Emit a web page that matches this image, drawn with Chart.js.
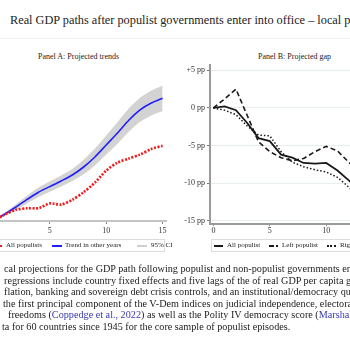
<!DOCTYPE html>
<html>
<head>
<meta charset="utf-8">
<script src="https://cdn.jsdelivr.net/npm/chart.js@4.4.1/dist/chart.umd.min.js"></script>
<style>
  html, body { margin: 0; padding: 0; width: 350px; height: 350px; overflow: hidden; background: #fff; }
  body { position: relative; font-family: 'Liberation Serif', serif; color: #222; }
  .t { position: absolute; white-space: nowrap; }
  canvas { position: absolute; }
  .box { position: absolute; border: 1px solid #dcdcdc; box-sizing: border-box; }
  .mk { position: absolute; }
  .cap { position: absolute; left: 0; top: 263px; font-size: 10.2px; line-height: 11.5px; white-space: nowrap; }
  .cap div { position: relative; }
  .lnk { color: #3a3ab0; }
</style>
</head>
<body>

<div class="t" style="left:10px; top:14px; font-size:12.3px; line-height:12px;">Real GDP paths after populist governments enter into office – local p</div>
<div style="position:absolute; left:0; top:38px; width:350px; height:1px; background:#f1f1f1;"></div>

<div class="t" style="left:38px; top:53px; font-size:8px; line-height:8px;">Panel A: Projected trends</div>
<div class="t" style="left:258px; top:53px; font-size:8px; line-height:8px;">Panel B: Projected gap</div>

<canvas id="chartA" width="196" height="178" style="left:-20px; top:59px; width:196px; height:178px;"></canvas>
<canvas id="chartB" width="226" height="185" style="left:170px; top:55px; width:226px; height:185px;"></canvas>

<!-- leyenda panel A -->
<div class="box" style="left:-5px; top:239px; width:170px; height:13px;"></div>
<div class="mk" style="left:-3px; top:244.5px; width:6px; height:2.5px; background:repeating-linear-gradient(90deg,#f21d1d 0 2px,transparent 2px 3.5px);"></div>
<div class="t" style="left:6px; top:241.5px; font-size:7px; line-height:7px;">All populists</div>
<div class="mk" style="left:52px; top:244.5px; width:10px; height:2px; background:#1f1fff;"></div>
<div class="t" style="left:65px; top:241.5px; font-size:7px; line-height:7px;">Trend in other years</div>
<div class="mk" style="left:137px; top:244.5px; width:10px; height:2px; background:#cfcfcf;"></div>
<div class="t" style="left:151px; top:241.5px; font-size:7px; line-height:7px;">95% CI</div>

<!-- leyenda panel B -->
<div class="box" style="left:211px; top:239px; width:150px; height:13px;"></div>
<div class="mk" style="left:214px; top:244.5px; width:9px; height:2px; background:#1a1a1a;"></div>
<div class="t" style="left:227px; top:241.5px; font-size:7px; line-height:7px;">All populist</div>
<div class="mk" style="left:269px; top:244.5px; width:5px; height:2px; background:#1a1a1a;"></div>
<div class="mk" style="left:276px; top:244.5px; width:2px; height:2px; background:#1a1a1a;"></div>
<div class="t" style="left:282px; top:241.5px; font-size:7px; line-height:7px;">Left populist</div>
<div class="mk" style="left:327px; top:244.5px; width:10px; height:2px; background:repeating-linear-gradient(90deg,#1a1a1a 0 2px,transparent 2px 3.5px);"></div>
<div class="t" style="left:340px; top:241.5px; font-size:7px; line-height:7px;">Right populist</div>

<div class="cap">
  <div style="left:4px;">cal projections for the GDP path following populist and non-populist governments entering office</div>
  <div style="left:4px;">regressions include country fixed effects and five lags of the of real GDP per capita growth</div>
  <div style="left:4px;">flation, banking and sovereign debt crisis controls, and an institutional/democracy quality</div>
  <div style="left:3px;">the first principal component of the V-Dem indices on judicial independence, electoral</div>
  <div style="left:8px;">freedoms (<span class="lnk">Coppedge et al., 2022</span>) as well as the Polity IV democracy score (<span class="lnk">Marshall</span></div>
  <div style="left:2px;">ta for 60 countries since 1945 for the core sample of populist episodes.</div>
</div>

<script>
// Años desde la entrada al gobierno
const YEARS = [0, 1, 2, 3, 4, 5, 6, 7, 8, 9, 10, 11, 12, 13, 14, 15];

// Panel A: trayectorias proyectadas (crecimiento acumulado, %)
const TREND_OTHER   = [0, 1.7, 3.5, 5.4, 7.2, 8.6, 10.0, 11.5, 13.5, 16.0, 19.0, 22.0, 25.2, 27.8, 29.5, 30.7];
const CI_HIGH       = [0, 2.1, 4.2, 6.4, 8.4, 9.9, 11.4, 13.0, 15.3, 18.1, 21.4, 24.7, 28.1, 30.8, 32.6, 33.9];
const CI_LOW        = [0, 1.3, 2.8, 4.4, 6.0, 7.3, 8.6, 10.0, 11.7, 13.9, 16.6, 19.3, 22.3, 24.8, 26.4, 27.5];
const ALL_POPULISTS = [0, 1.6, 2.8, 3.2, 3.2, 4.4, 4.1, 5.3, 7.2, 9.6, 12.6, 14.6, 15.6, 16.6, 18.0, 18.8];

// Panel B: brecha proyectada (pp)
const GAP_ALL   = [0, 0.2, -0.3, -2.0, -4.0, -4.4, -6.2, -6.6, -7.3, -7.4, -7.3, -8.3, -9.6, -11.0, -12.0, -12.5];
const GAP_LEFT  = [0, 1.2, 2.5, -1.0, -4.5, -5.8, -6.6, -7.0, -6.7, -5.8, -5.1, -5.7, -7.2, -8.5, -9.5, -10.0];
const GAP_RIGHT = [0, -0.3, -0.9, -2.4, -3.6, -3.7, -5.8, -7.2, -7.8, -8.2, -8.5, -9.2, -10.5, -12.0, -13.0, -13.5];

// Ejes
const X_TICKS = [0, 5, 10, 15];
const Y_TICKS_B = [-15, -10, -5, 0, 5];
const Y_LABELS_B = ['-15 pp', '-10 pp', '-5 pp', '0 pp', '+5 pp'];

Chart.defaults.font.family = "'Liberation Serif', serif";
Chart.defaults.font.size = 8;
Chart.defaults.color = '#333';

const pts = arr => YEARS.map((t, i) => ({ x: t, y: arr[i] }));

const BASE = {
  responsive: false,
  animation: false,
  devicePixelRatio: 1,
  plugins: { legend: { display: false }, tooltip: { enabled: false } },
  elements: { point: { radius: 0 } }
};

const xAxis = (tickLen, pad, borderColor) => ({
  type: 'linear', min: -0.3, max: 15.3,
  afterBuildTicks: s => { s.ticks = X_TICKS.map(v => ({ value: v })); },
  afterFit: s => { s.height = 16; },
  border: { color: borderColor, width: 2 },
  grid: { display: true, drawOnChartArea: false, drawTicks: true, tickLength: tickLen, tickColor: '#888' },
  ticks: { padding: pad, autoSkip: false, maxRotation: 0, color: '#333' }
});

// Gráfica A
new Chart(document.getElementById('chartA'), {
  type: 'line',
  data: {
    datasets: [
      { data: pts(ALL_POPULISTS), borderColor: '#f21d1d', borderWidth: 2.6, borderDash: [2, 1.5], tension: 0.25, fill: false },
      { data: pts(TREND_OTHER), borderColor: '#1f1fff', borderWidth: 1.6, tension: 0.25, fill: false },
      { data: pts(CI_HIGH), borderWidth: 0, borderColor: 'rgba(0,0,0,0)', backgroundColor: '#d3d3d3', tension: 0.25, fill: '+1' },
      { data: pts(CI_LOW), borderWidth: 0, borderColor: 'rgba(0,0,0,0)', tension: 0.25, fill: false }
    ]
  },
  options: {
    ...BASE,
    layout: { padding: { left: 10, right: 10, top: 10, bottom: 0 } },
    scales: {
      x: xAxis(3, 2, '#c4c4c4'),
      y: { display: false, min: 0, max: 38 }
    }
  }
});

// Gráfica B
new Chart(document.getElementById('chartB'), {
  type: 'line',
  data: {
    datasets: [
      { data: pts(GAP_ALL), borderColor: '#1a1a1a', borderWidth: 1.8, tension: 0, fill: false },
      { data: pts(GAP_LEFT), borderColor: '#1a1a1a', borderWidth: 1.6, borderDash: [5, 3], tension: 0, fill: false },
      { data: pts(GAP_RIGHT), borderColor: '#1a1a1a', borderWidth: 1.5, borderDash: [1.5, 2], tension: 0, fill: false }
    ]
  },
  options: {
    ...BASE,
    layout: { padding: { left: 0, right: 10, top: 10, bottom: 0 } },
    scales: {
      x: xAxis(2, 0, '#9a9a9a'),
      y: {
        min: -15.4, max: 5.7,
        afterBuildTicks: s => { s.ticks = Y_TICKS_B.map(v => ({ value: v })); },
        afterFit: s => { s.width = 40; },
        border: { color: '#9a9a9a', width: 2 },
        grid: { color: '#e6eeee', lineWidth: 1, tickLength: 3, tickColor: '#777' },
        ticks: { padding: 2, color: '#333', callback: v => Y_LABELS_B[Y_TICKS_B.indexOf(v)] }
      }
    }
  }
});
</script>
</body>
</html>
